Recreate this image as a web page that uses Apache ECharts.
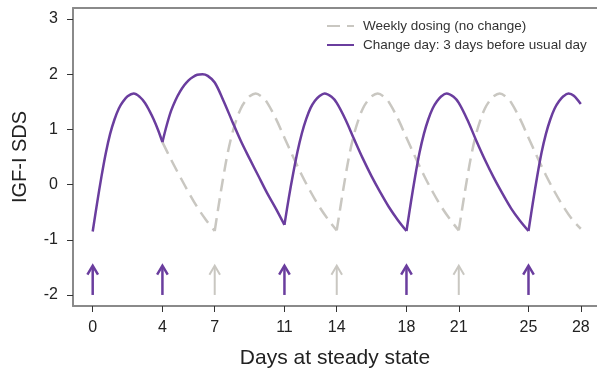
<!DOCTYPE html>
<html><head><meta charset="utf-8">
<script src="https://cdn.jsdelivr.net/npm/echarts@6/dist/echarts.min.js"></script>
<style>html,body{margin:0;padding:0;background:#fff}#c{width:597px;height:378px}</style>
</head><body><div id="c"></div>
<script>
// Tick labels
const xTicks = [0, 4, 7, 11, 14, 18, 21, 25, 28];
const yTicks = [-2, -1, 0, 1, 2, 3];

// Change day: 3 days before usual day (purple)
const purpleDay = [0,0.25,0.5,0.75,1,1.25,1.5,1.75,2,2.35,2.7,3,3.25,3.5,3.75,4,
  4.25,4.5,4.75,5,5.25,5.5,5.75,6,6.3,6.6,7,7.5,8,8.5,9,9.5,10,10.5,11,
  11.25,11.5,11.75,12,12.25,12.5,12.75,13,13.3,13.7,14,14.5,15,15.5,16,16.5,17,17.5,18,
  18.25,18.5,18.75,19,19.25,19.5,19.75,20,20.3,20.7,21,21.5,22,22.5,23,23.5,24,24.5,25,
  25.25,25.5,25.75,26,26.25,26.5,26.75,27,27.3,27.6,28];
const purpleSDS = [-0.85,-0.34,0.14,0.57,0.92,1.18,1.38,1.51,1.60,1.65,1.59,1.48,1.34,1.18,0.99,0.77,
  1.08,1.34,1.53,1.68,1.80,1.89,1.95,1.99,2.00,1.97,1.85,1.52,1.15,0.79,0.47,0.16,-0.15,-0.43,-0.73,
  -0.24,0.20,0.60,0.93,1.19,1.39,1.52,1.60,1.65,1.59,1.48,1.18,0.82,0.47,0.15,-0.14,-0.41,-0.64,-0.84,
  -0.33,0.15,0.58,0.92,1.18,1.38,1.51,1.60,1.65,1.59,1.48,1.17,0.80,0.45,0.13,-0.16,-0.43,-0.65,-0.84,
  -0.33,0.15,0.58,0.92,1.18,1.38,1.51,1.60,1.65,1.61,1.46];

// Weekly dosing (no change) (grey dashed, shown from day 4)
const grayDay = [4,4.5,5,5.5,6,6.5,7,
  7.25,7.5,7.75,8,8.25,8.5,8.75,9,9.35,9.75,10,10.5,11,11.5,12,12.5,13,13.5,14,
  14.25,14.5,14.75,15,15.25,15.5,15.75,16,16.35,16.75,17,17.5,18,18.5,19,19.5,20,20.5,21,
  21.25,21.5,21.75,22,22.25,22.5,22.75,23,23.35,23.75,24,24.5,25,25.5,26,26.5,27,27.5,28];
const graySDS = [0.77,0.45,0.15,-0.14,-0.41,-0.64,-0.84,
  -0.33,0.15,0.58,0.92,1.18,1.38,1.51,1.60,1.65,1.58,1.49,1.20,0.85,0.50,0.17,-0.13,-0.40,-0.63,-0.83,
  -0.33,0.15,0.58,0.92,1.18,1.38,1.51,1.60,1.65,1.58,1.49,1.20,0.85,0.50,0.17,-0.13,-0.40,-0.63,-0.83,
  -0.33,0.15,0.58,0.92,1.18,1.38,1.51,1.60,1.65,1.58,1.49,1.20,0.85,0.50,0.17,-0.13,-0.40,-0.63,-0.80];

// Dose arrows
const purpleDoseDays = [0, 4, 11, 18, 25];
const grayDoseDays = [7, 14, 21];
const arrowBase = -2;
const arrowTip = -1.47;

const PURPLE = '#6a3d9e';
const GREY = '#c9c7c1';
const AXIS = '#8a8a8a';
const FONT = 'Liberation Sans, Arial, sans-serif';
const NAME_GREY = 'Weekly dosing (no change)';
const NAME_PURPLE = 'Change day: 3 days before usual day';

// split a curve at dose days so troughs stay sharp while each cycle is smooth
function segments(days, vals, cuts) {
  const out = [];
  let cur = [];
  for (let i = 0; i < days.length; i++) {
    cur.push([days[i], vals[i]]);
    if (cuts.indexOf(days[i]) >= 0 && cur.length > 1) {
      out.push(cur);
      cur = [[days[i], vals[i]]];
    }
  }
  if (cur.length > 1) out.push(cur);
  return out;
}

function arrowRender(color, width) {
  return function (params, api) {
    const p0 = api.coord([api.value(0), api.value(1)]);
    const p1 = api.coord([api.value(0), api.value(2)]);
    return {
      type: 'group',
      children: [
        {type: 'line', shape: {x1: p0[0], y1: p0[1], x2: p1[0], y2: p1[1] + 1}, style: {stroke: color, lineWidth: width}},
        {type: 'polyline', shape: {points: [[p1[0] - 5.3, p1[1] + 9], [p1[0], p1[1]], [p1[0] + 5.3, p1[1] + 9]]},
         style: {stroke: color, fill: null, lineWidth: width, lineJoin: 'miter'}}
      ]
    };
  };
}

const series = [];
segments(grayDay, graySDS, grayDoseDays).forEach(seg => series.push({
  name: NAME_GREY, type: 'line', symbol: 'none', showSymbol: false, smooth: 0.35, data: seg,
  lineStyle: {color: GREY, width: 2.5, type: [13, 7]}, itemStyle: {color: GREY}, z: 2
}));
segments(purpleDay, purpleSDS, purpleDoseDays).forEach(seg => series.push({
  name: NAME_PURPLE, type: 'line', symbol: 'none', showSymbol: false, smooth: 0.35, data: seg,
  lineStyle: {color: PURPLE, width: 2.5}, itemStyle: {color: PURPLE}, z: 3
}));
series.push({
  type: 'custom', renderItem: arrowRender(PURPLE, 2.5),
  data: purpleDoseDays.map(d => [d, arrowBase, arrowTip]), encode: {x: 0, y: [1, 2]}, z: 4
});
series.push({
  type: 'custom', renderItem: arrowRender(GREY, 2),
  data: grayDoseDays.map(d => [d, arrowBase, arrowTip]), encode: {x: 0, y: [1, 2]}, z: 4
});

const chart = echarts.init(document.getElementById('c'), null, {renderer: 'canvas'});
chart.setOption({
  animation: false,
  textStyle: {fontFamily: FONT},
  grid: {left: 73, right: 0, top: 8, bottom: 72, containLabel: false},
  legend: {
    orient: 'vertical', left: 321, top: 14, itemWidth: 27, itemHeight: 10, itemGap: 5,
    itemStyle: {opacity: 0},
    textStyle: {fontSize: 13.5, color: '#333', fontFamily: FONT, padding: [0, 0, 0, 4]},
    data: [NAME_GREY, NAME_PURPLE]
  },
  xAxis: [{
    type: 'value', min: -1.13, max: 28.93,
    name: 'Days at steady state', nameLocation: 'middle', nameGap: 42,
    nameTextStyle: {fontSize: 21, color: '#222'},
    axisLine: {show: true, onZero: false, lineStyle: {color: AXIS, width: 2}},
    axisTick: {show: true, customValues: xTicks, length: 6, lineStyle: {color: '#333', width: 1}},
    axisLabel: {customValues: xTicks, fontSize: 16, color: '#222', margin: 14},
    splitLine: {show: false}
  }, {
    type: 'value', position: 'top', min: -1.13, max: 28.93,
    axisLine: {show: true, onZero: false, lineStyle: {color: AXIS, width: 2}},
    axisTick: {show: false}, axisLabel: {show: false}, splitLine: {show: false}
  }],
  yAxis: {
    type: 'value', min: -2.2, max: 3.2,
    name: 'IGF-I SDS', nameLocation: 'middle', nameGap: 43,
    nameTextStyle: {fontSize: 20, color: '#222'},
    axisLine: {show: true, onZero: false, lineStyle: {color: AXIS, width: 2}},
    axisTick: {show: true, customValues: yTicks, length: 6, lineStyle: {color: '#333', width: 1}},
    axisLabel: {customValues: yTicks, fontSize: 16, color: '#222', margin: 15},
    splitLine: {show: false}
  },
  series: series
});
</script></body></html>
